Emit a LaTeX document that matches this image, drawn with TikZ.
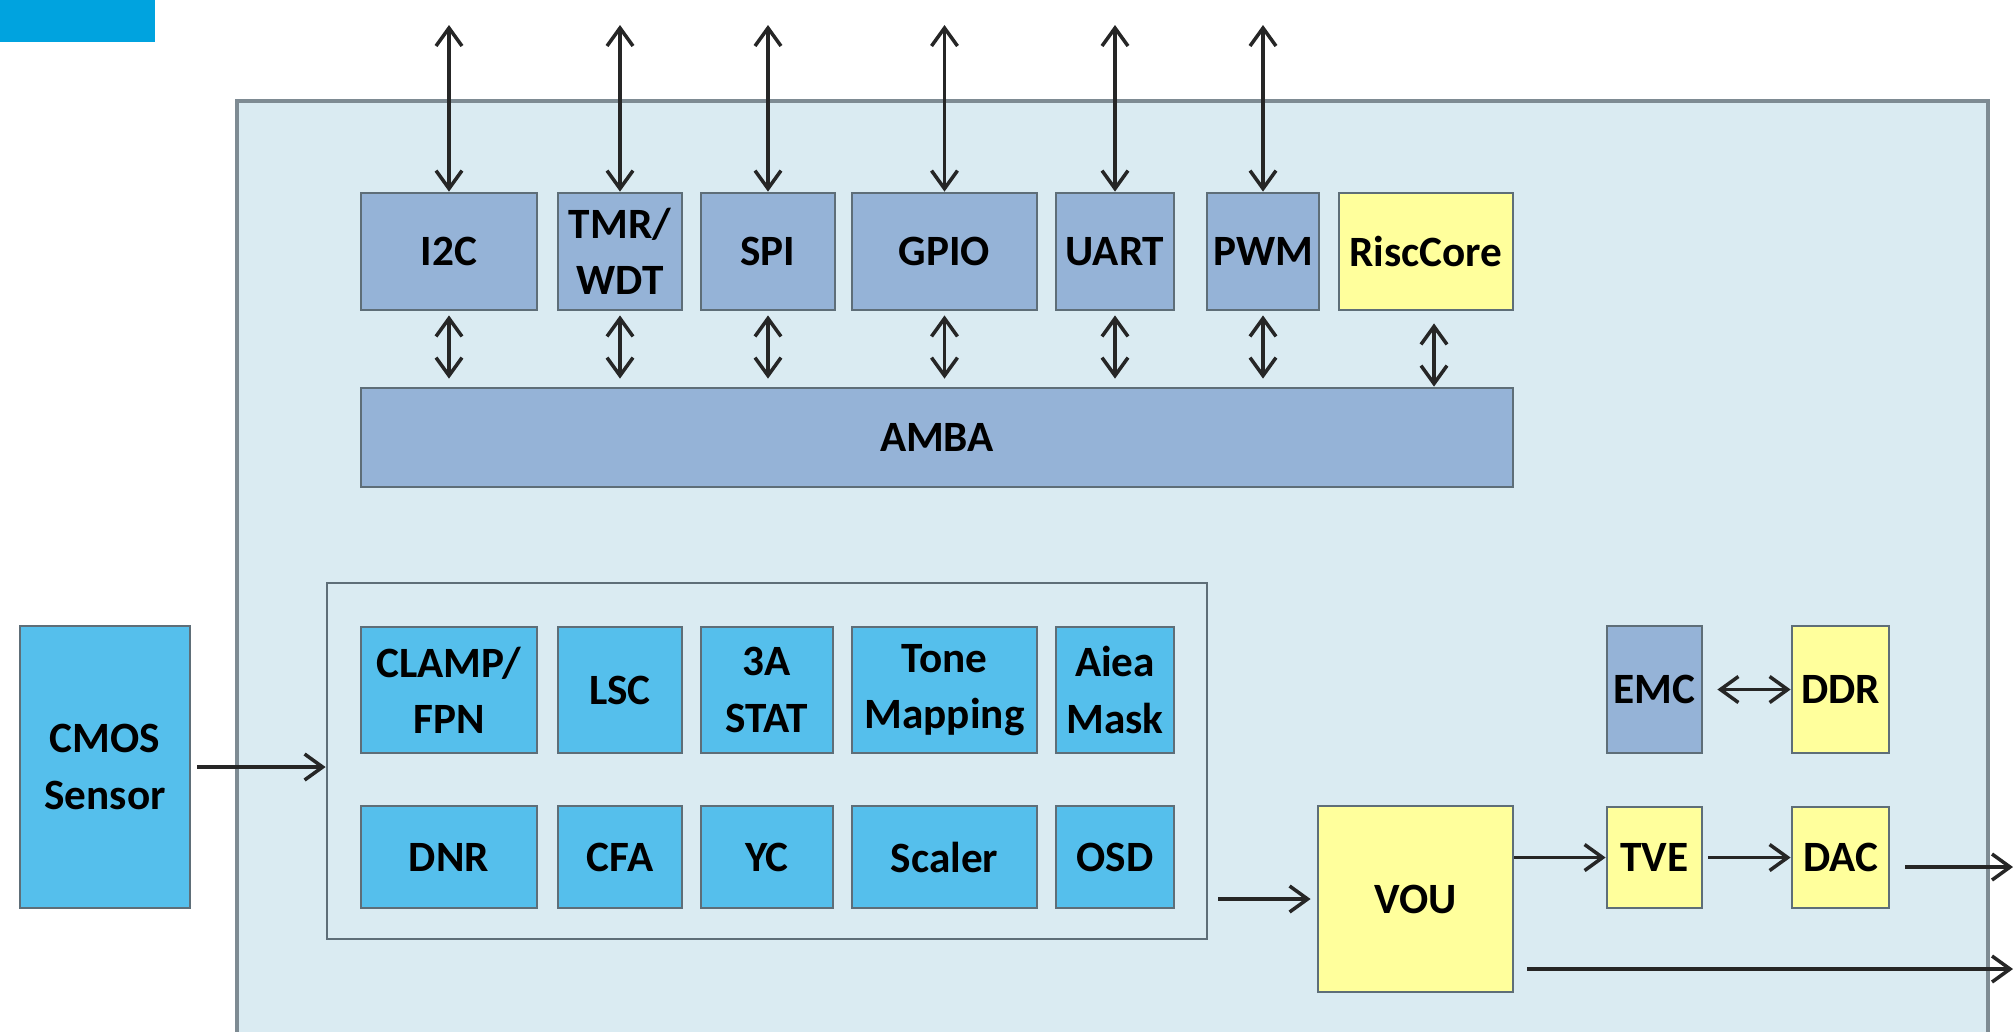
\documentclass[tikz,border=0pt]{standalone}
\usepackage{fontspec}
\setmainfont{Carlito}
\usetikzlibrary{arrows.meta}

\definecolor{chipbg}{HTML}{DAEBF2}
\definecolor{periph}{HTML}{95B3D7}
\definecolor{ispblue}{HTML}{55BFEC}
\definecolor{vidyel}{HTML}{FFFF9C}
\definecolor{edgegray}{HTML}{5E6E78}
\definecolor{logoblue}{HTML}{00A3DF}

\begin{document}
\begin{tikzpicture}[x=0.1mm, y=-0.1mm,
    every node/.style={draw=edgegray, line width=0.8pt, inner sep=0pt, align=center,
      font=\fontsize{12.3}{16}\selectfont\bfseries},
    sz/.style 2 args={minimum width=#1*0.1mm, minimum height=#2*0.1mm},
    pbox/.style={fill=periph},
    ibox/.style={fill=ispblue},
    ybox/.style={fill=vidyel},
    link/.style={draw=black!85, line width=1pt, -{Straight Barb[length=1.8mm,width=2.6mm]}},
    dlink/.style={link, {Straight Barb[length=1.8mm,width=2.6mm]}-{Straight Barb[length=1.8mm,width=2.6mm]}}]

    \useasboundingbox (0,0) rectangle (2013,1031);
    \clip (0,0) rectangle (2013,1031);

    % Logo corner and chip outline
    \fill[logoblue] (0,0) rectangle (155,42);
    \draw[fill=chipbg, draw=edgegray!80, line width=1.2pt] (237,101) rectangle (1988,1060);

    % Peripheral row
    \node[pbox, sz={176}{117}] (I2C) at (449,251.5) {I2C};
    \node[pbox, sz={124}{117}] (TMR) at (620,251.5) {TMR/\\WDT};
    \node[pbox, sz={134}{117}] (SPI) at (768,251.5) {SPI};
    \node[pbox, sz={185}{117}] (GPIO) at (944.5,251.5) {GPIO};
    \node[pbox, sz={118}{117}] (UART) at (1115,251.5) {UART};
    \node[pbox, sz={112}{117}] (PWM) at (1263,251.5) {PWM};
    \node[ybox, sz={174}{117}] (RISC) at (1426,251.5) {RiscCore};

    % Bus
    \node[pbox, sz={1152}{99}] (AMBA) at (937,437.5) {AMBA};

    % Pins above the chip
    \coordinate (pins) at (0,25);

    % ISP frame with its blocks
    \node[fill=chipbg, sz={880}{356}] (ISP) at (767,761) {};
    \node[ibox, sz={176}{126}] (CLAMP) at (449,690) {CLAMP/\\FPN};
    \node[ibox, sz={124}{126}] (LSC) at (620,690) {LSC};
    \node[ibox, sz={132}{126}] (STAT) at (767,690) {3A\\STAT};
    \node[ibox, sz={185}{126}] (TONE) at (944.5,690) {Tone\\Mapping};
    \node[ibox, sz={118}{126}] (MASK) at (1115,690) {Aiea\\Mask};
    \node[ibox, sz={176}{102}] (DNR) at (449,857) {DNR};
    \node[ibox, sz={124}{102}] (CFA) at (620,857) {CFA};
    \node[ibox, sz={132}{102}] (YC) at (767,857) {YC};
    \node[ibox, sz={185}{102}] (SCALER) at (944.5,857) {Scaler};
    \node[ibox, sz={118}{102}] (OSD) at (1115,857) {OSD};

    % Sensor outside the chip
    \node[ibox, sz={170}{282}] (CMOS) at (105,767) {CMOS\\Sensor};

    % Video out and memory
    \node[ybox, sz={195}{186}] (VOU) at (1415.5,899) {VOU};
    \node[pbox, sz={95}{127}] (EMC) at (1654.5,689.5) {EMC};
    \node[ybox, sz={97}{127}] (DDR) at (1840.5,689.5) {DDR};
    \node[ybox, sz={95}{101}] (TVE) at (1654.5,857.5) {TVE};
    \node[ybox, sz={97}{101}] (DAC) at (1840.5,857.5) {DAC};

    \coordinate (out1) at (2013,867);
    \coordinate (out2) at (2013,969);

    % Edges
    \draw[dlink] (I2C.north |- pins) -- (I2C.north);
    \draw[dlink] (TMR.north |- pins) -- (TMR.north);
    \draw[dlink] (SPI.north |- pins) -- (SPI.north);
    \draw[dlink] (GPIO.north |- pins) -- (GPIO.north);
    \draw[dlink] (UART.north |- pins) -- (UART.north);
    \draw[dlink] (PWM.north |- pins) -- (PWM.north);

    \draw[dlink, shorten <=0.4mm, shorten >=0.8mm] (I2C.south) -- (I2C.south |- AMBA.north);
    \draw[dlink, shorten <=0.4mm, shorten >=0.8mm] (TMR.south) -- (TMR.south |- AMBA.north);
    \draw[dlink, shorten <=0.4mm, shorten >=0.8mm] (SPI.south) -- (SPI.south |- AMBA.north);
    \draw[dlink, shorten <=0.4mm, shorten >=0.8mm] (GPIO.south) -- (GPIO.south |- AMBA.north);
    \draw[dlink, shorten <=0.4mm, shorten >=0.8mm] (UART.south) -- (UART.south |- AMBA.north);
    \draw[dlink, shorten <=0.4mm, shorten >=0.8mm] (PWM.south) -- (PWM.south |- AMBA.north);
    \draw[dlink, shorten <=1.2mm] ([xshift=0.8mm]RISC.south) -- ([xshift=0.8mm]RISC.south |- AMBA.north);

    \draw[link, shorten <=0.6mm] (CMOS.east) -- (CMOS.east -| ISP.west);
    \draw[link, shorten <=1mm, shorten >=0.6mm] (ISP.east |- VOU.west) -- (VOU.west);
    \draw[link] (VOU.east |- TVE.west) -- (TVE.west);
    \draw[link, shorten <=0.5mm] (TVE.east) -- (DAC.west);
    \draw[link, shorten <=1.5mm] (DAC.east |- out1) -- (out1);
    \draw[link, shorten <=1.3mm] (VOU.east |- out2) -- (out2);
    \draw[dlink, shorten <=1.4mm] (EMC.east) -- (DDR.west);

\end{tikzpicture}
\end{document}
